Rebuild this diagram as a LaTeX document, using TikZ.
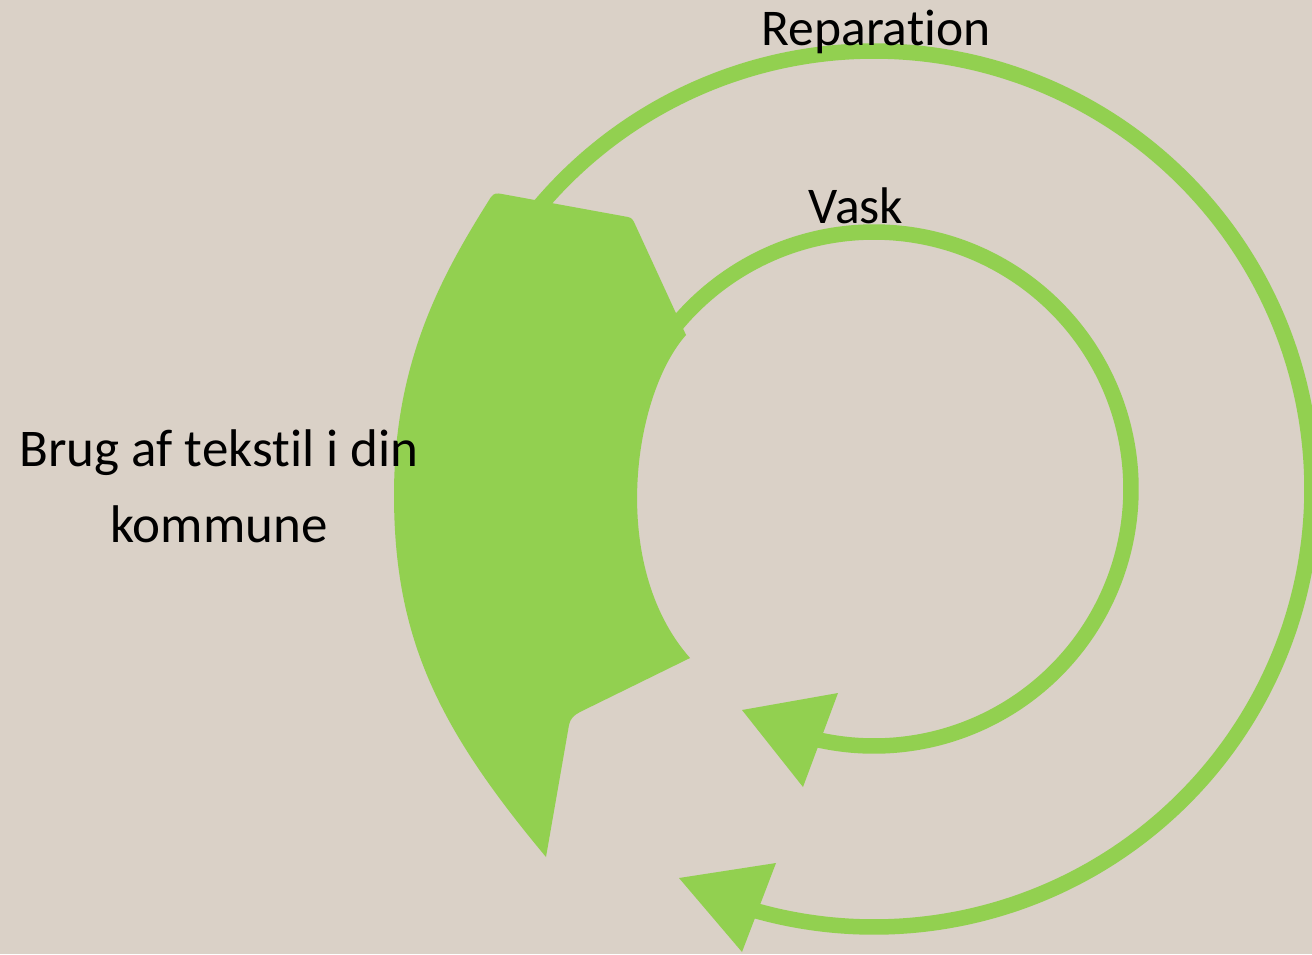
\documentclass[tikz,border=0pt]{standalone}
\usepackage{fontspec}
\setmainfont{Carlito}[Ligatures={NoCommon}]
\definecolor{bg}{HTML}{DAD1C7}
\definecolor{leaf}{HTML}{92D050}
\newcommand{\nolig}{\kern0pt }
\tikzset{
  ring/.style={draw=leaf, line width=15.5pt, line cap=butt},
  headtri/.style={fill=leaf, draw=none},
  blockarrow/.style={fill=leaf, draw=none},
  lbl/.style={inner sep=0pt, anchor=base, text=black, font=\fontsize{51.5}{61}\selectfont},
  lblbig/.style={lbl, font=\fontsize{53}{63}\selectfont}
}
\begin{document}
\begin{tikzpicture}[x=1pt, y=-1pt]
  % background / bounding box
  \fill[bg] (0,0) rectangle (1312,954);
  \useasboundingbox (0,0) rectangle (1312,954);
  \coordinate (c) at (874,489);

  % outer ring (Reparation)
  \draw[ring] plot[smooth, domain=218:467, samples=160] ({874+438*cos(\x)}, {489+438*sin(\x)});
  % inner ring (Vask)
  \draw[ring] plot[smooth, domain=213:464, samples=140] ({874+257*cos(\x)}, {489+257*sin(\x)});

  % arrowheads
  \fill[headtri] (742,710) -- (838,693) -- (803,787) -- cycle;
  \fill[headtri] (679,878) -- (776,863) -- (742,952) -- cycle;

  % big curved block arrow
  \fill[blockarrow] (491,197) .. controls (494,193) and (497,193) .. (502,194)
    -- (628,217) .. controls (632,218) and (633,220) .. (634,222)
    -- (686,335)
    .. controls (633,395) and (608,565) .. (690,658)
    -- (580,712) .. controls (574,715) and (570,719) .. (569,725)
    -- (546,857)
    .. controls (440,730) and (394,640) .. (394,495)
    .. controls (394,360) and (443,273) .. (491,197)
    -- cycle;

  % labels
  \node[lbl] (rep) at (876,45) {Reparat\nolig ion};
  \node[lbl] (vask) at (856,223) {Vask};
  \node[lblbig] (brug1) at (219,466) {Brug af tekst\nolig il i din};
  \node[lblbig] (brug2) at (219,542) {kommune};
\end{tikzpicture}
\end{document}
